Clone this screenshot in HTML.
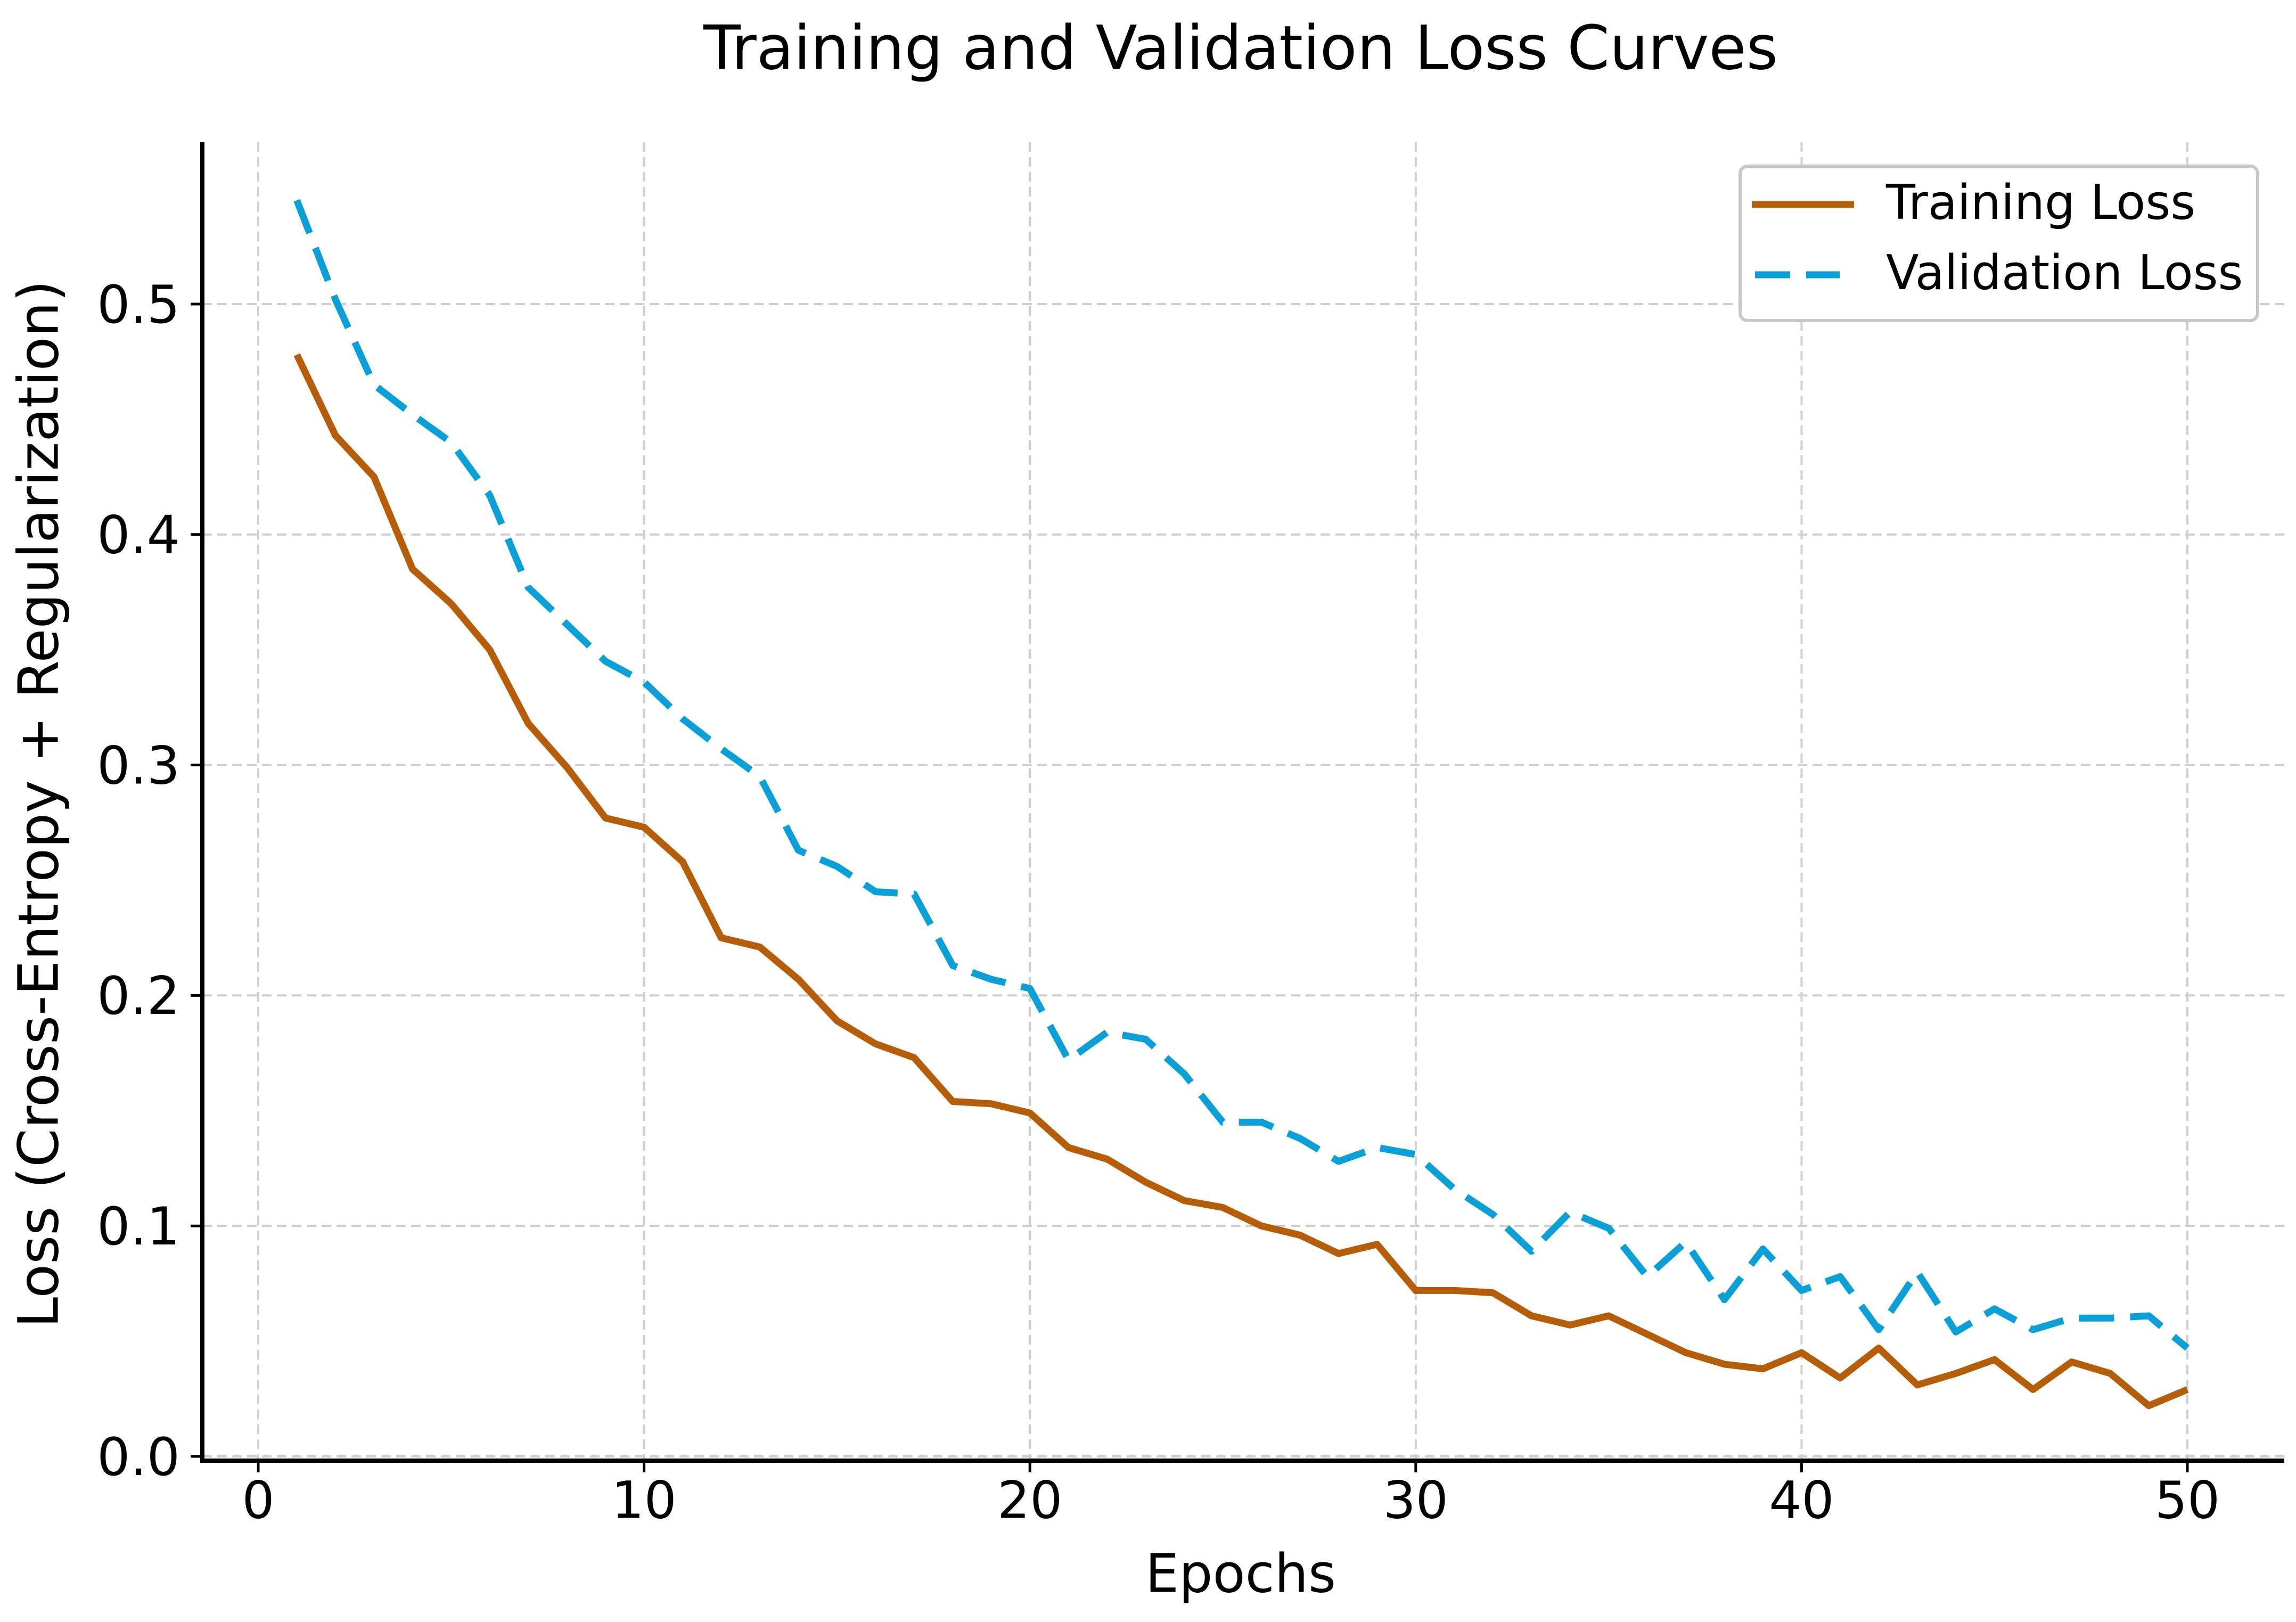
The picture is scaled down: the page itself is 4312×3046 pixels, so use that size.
<!DOCTYPE html>
<html><head><meta charset="utf-8">
<style>html,body{margin:0;padding:0;background:#fff;}svg{display:block;}</style>
</head><body>
<svg id="chart" width="4312" height="3046" viewBox="0 0 4312 3046" xmlns="http://www.w3.org/2000/svg" font-family="'DejaVu Sans','Liberation Sans',sans-serif">
<rect width="4312" height="3046" fill="#fff"/>
<g id="grid"></g>
<g id="series"></g>
<g id="axes"></g>
<text x="2330" y="98" font-size="114" text-anchor="middle" dominant-baseline="middle" fill="#000">Training and Validation Loss Curves</text>
<text x="2330" y="2962" font-size="100" text-anchor="middle" dominant-baseline="middle" fill="#000">Epochs</text>
<text x="0" y="0" font-size="104" text-anchor="middle" dominant-baseline="middle" fill="#000" transform="translate(80,1510) rotate(-90)">Loss (Cross-Entropy + Regularization)</text>
<g>
<rect x="3268" y="312" width="972" height="290" rx="14" fill="#fff" stroke="#c8c8c8" stroke-width="6"/>
<line x1="3290" y1="384" x2="3482" y2="384" stroke="#b55d08" stroke-width="13"/>
<text x="3542" y="386" font-size="90" dominant-baseline="middle" fill="#000">Training Loss</text>
<line x1="3296" y1="516" x2="3455" y2="516" stroke="#0b9fd8" stroke-width="13" stroke-dasharray="66,30"/>
<text x="3542" y="518" font-size="90" dominant-baseline="middle" fill="#000">Validation Loss</text>
</g>
</svg>
<script>
const epochs = [1,2,3,4,5,6,7,8,9,10,11,12,13,14,15,16,17,18,19,20,21,22,23,24,25,26,27,28,29,30,31,32,33,34,35,36,37,38,39,40,41,42,43,44,45,46,47,48,49,50];
const trainingLoss = [0.478,0.443,0.425,0.385,0.370,0.350,0.318,0.299,0.277,0.273,0.258,0.225,0.221,0.207,0.189,0.179,0.173,0.154,0.153,0.149,0.134,0.129,0.119,0.111,0.108,0.100,0.096,0.088,0.092,0.072,0.072,0.071,0.061,0.057,0.061,0.053,0.045,0.040,0.038,0.045,0.034,0.047,0.031,0.036,0.042,0.029,0.041,0.036,0.022,0.029];
const validationLoss = [0.545,0.502,0.465,0.452,0.440,0.417,0.377,0.361,0.345,0.336,0.320,0.307,0.295,0.263,0.256,0.245,0.244,0.213,0.207,0.203,0.172,0.184,0.181,0.166,0.145,0.145,0.138,0.128,0.134,0.131,0.116,0.105,0.089,0.106,0.099,0.078,0.093,0.068,0.090,0.072,0.078,0.055,0.080,0.054,0.064,0.055,0.060,0.060,0.061,0.047];
const xTicks = [0,10,20,30,40,50];
const yTicks = [0.0,0.1,0.2,0.3,0.4,0.5];
const yTickLabels = ["0.0","0.1","0.2","0.3","0.4","0.5"];

const NS = "http://www.w3.org/2000/svg";
const X0 = 485, X50 = 4108, Y0 = 2735, Y05 = 571;
const xs = v => X0 + (v - 0) * (X50 - X0) / 50;
const ys = v => Y0 - v * (Y0 - Y05) / 0.5;
const LEFT = 380, BOTTOM = 2743, TOP = 267, RIGHT = 4290;
function mk(tag, attrs, parent) {
  const e = document.createElementNS(NS, tag);
  for (const k in attrs) e.setAttribute(k, attrs[k]);
  parent.appendChild(e);
  return e;
}
const grid = document.getElementById('grid');
const axes = document.getElementById('axes');
const series = document.getElementById('series');

xTicks.forEach(t => {
  const g = mk('line', {x1: xs(t), x2: xs(t), y1: TOP, y2: BOTTOM, stroke: '#cfcfcf', 'stroke-width': 4, 'stroke-dasharray': '18,10'}, grid);
  
  
  const tk = mk('line', {x1: xs(t), x2: xs(t), y1: BOTTOM, y2: BOTTOM + 22, stroke: '#000', 'stroke-width': 5}, axes);
  
  
  const tl = mk('text', {x: xs(t), y: 2824, 'font-size': 96, 'text-anchor': 'middle', 'dominant-baseline': 'middle', fill: '#000'}, axes);
  tl.textContent = String(t);
  
  
});
yTicks.forEach((t, i) => {
  const g = mk('line', {x1: LEFT, x2: RIGHT, y1: ys(t), y2: ys(t), stroke: '#cfcfcf', 'stroke-width': 4, 'stroke-dasharray': '18,10'}, grid);
  
  
  const tk = mk('line', {x1: LEFT - 22, x2: LEFT, y1: ys(t), y2: ys(t), stroke: '#000', 'stroke-width': 5}, axes);
  
  
  const tl = mk('text', {x: 338, y: ys(t) + 8, 'font-size': 98, 'text-anchor': 'end', 'dominant-baseline': 'middle', fill: '#000'}, axes);
  tl.textContent = yTickLabels[i];
  
  
});
const sl = mk('line', {x1: LEFT, x2: LEFT, y1: TOP, y2: BOTTOM + 4, stroke: '#000', 'stroke-width': 8}, axes);


const sb = mk('line', {x1: LEFT - 4, x2: RIGHT, y1: BOTTOM, y2: BOTTOM, stroke: '#000', 'stroke-width': 8}, axes);



const pts = arr => arr.map((v, i) => xs(epochs[i]).toFixed(1) + ',' + ys(v).toFixed(1)).join(' ');
const pv = mk('polyline', {points: pts(validationLoss), fill: 'none', stroke: '#0b9fd8', 'stroke-width': 13, 'stroke-dasharray': '66,30', 'stroke-linejoin': 'round'}, series);


const pt = mk('polyline', {points: pts(trainingLoss), fill: 'none', stroke: '#b55d08', 'stroke-width': 13, 'stroke-linejoin': 'round'}, series);


</script>
</body></html>
